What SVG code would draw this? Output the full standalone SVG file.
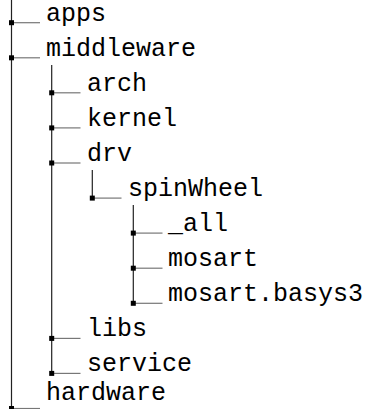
<svg xmlns="http://www.w3.org/2000/svg" width="369" height="409" viewBox="0 0 369 409">
<style>
.v{stroke:#222;stroke-width:1.2;fill:none}
.h{stroke:#777;stroke-width:1.2;fill:none}
.d{fill:#000}
text{font-family:"Liberation Mono","DejaVu Sans Mono",monospace;font-size:25px;fill:#000}
</style>
<rect width="369" height="409" fill="#fff"/>
<g id="connectors">
<line class="v" x1="11.5" y1="0" x2="11.5" y2="409"/>
<line class="v" x1="51.7" y1="65" x2="51.7" y2="373.4"/>
<line class="v" x1="92.3" y1="170" x2="92.3" y2="198.1"/>
<line class="v" x1="133.3" y1="205" x2="133.3" y2="303.3"/>
</g>
<g id="apps"><line class="h" x1="11.5" y1="22.7" x2="40" y2="22.7"/><rect class="d" x="9" y="20.2" width="5" height="5"/><text x="46" y="21">apps</text></g>
<g id="middleware"><line class="h" x1="11.5" y1="57.8" x2="40" y2="57.8"/><rect class="d" x="9" y="55.3" width="5" height="5"/><text x="46" y="56">middleware</text></g>
<g id="arch"><line class="h" x1="51.7" y1="92.8" x2="80.5" y2="92.8"/><rect class="d" x="49.2" y="90.3" width="5" height="5"/><text x="87" y="91">arch</text></g>
<g id="kernel"><line class="h" x1="51.7" y1="127.9" x2="80.5" y2="127.9"/><rect class="d" x="49.2" y="125.4" width="5" height="5"/><text x="87" y="126">kernel</text></g>
<g id="drv"><line class="h" x1="51.7" y1="163" x2="80.5" y2="163"/><rect class="d" x="49.2" y="160.5" width="5" height="5"/><text x="87" y="161">drv</text></g>
<g id="spinWheel"><line class="h" x1="92.3" y1="198.1" x2="121.5" y2="198.1"/><rect class="d" x="89.8" y="195.6" width="5" height="5"/><text x="128" y="196">spinWheel</text></g>
<g id="all"><line class="h" x1="133.3" y1="233.1" x2="162.5" y2="233.1"/><rect class="d" x="130.8" y="230.6" width="5" height="5"/><text x="168" y="231">_all</text></g>
<g id="mosart"><line class="h" x1="133.3" y1="268.2" x2="162.5" y2="268.2"/><rect class="d" x="130.8" y="265.7" width="5" height="5"/><text x="168" y="266">mosart</text></g>
<g id="mosart-basys3"><line class="h" x1="133.3" y1="303.3" x2="162.5" y2="303.3"/><rect class="d" x="130.8" y="300.8" width="5" height="5"/><text x="168" y="301">mosart.basys3</text></g>
<g id="libs"><line class="h" x1="51.7" y1="338.4" x2="80.5" y2="338.4"/><rect class="d" x="49.2" y="335.9" width="5" height="5"/><text x="87" y="336">libs</text></g>
<g id="service"><line class="h" x1="51.7" y1="373.4" x2="80.5" y2="373.4"/><rect class="d" x="49.2" y="370.9" width="5" height="5"/><text x="87" y="371">service</text></g>
<g id="hardware"><line class="h" x1="11.5" y1="408.5" x2="40" y2="408.5"/><rect class="d" x="9" y="406" width="5" height="5"/><text x="46" y="400">hardware</text></g>
</svg>
